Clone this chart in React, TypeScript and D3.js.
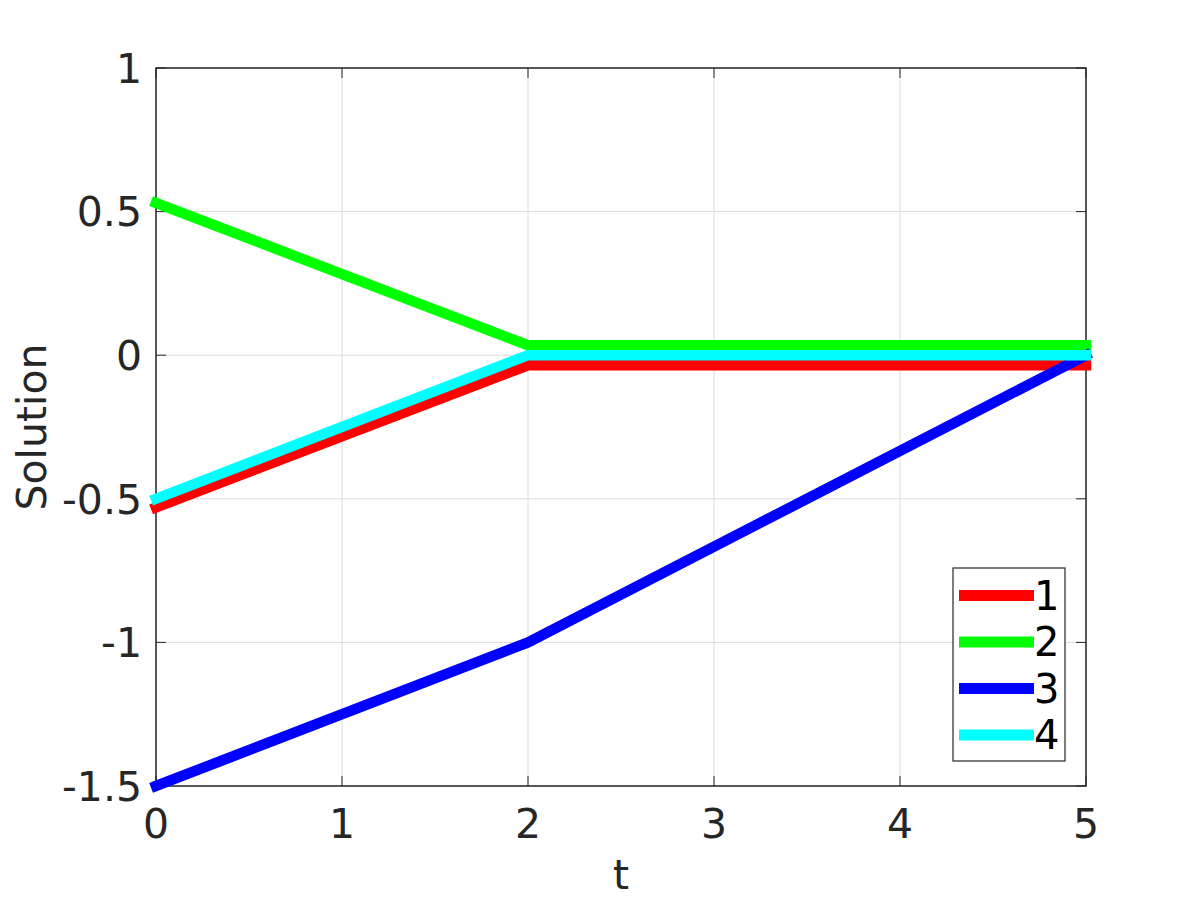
import React from "react";
import * as d3 from "d3";

const tValues = [0, 2, 5];
const series1 = [-0.53, -0.035, -0.035];
const series2 = [0.53, 0.035, 0.035];
const series3 = [-1.5, -1.0, 0.0];
const series4 = [-0.5, 0.0, 0.0];
const seriesNames = ["1", "2", "3", "4"];
const seriesColors = ["#ff0000", "#00ff00", "#0000ff", "#00ffff"];
const xTicks = [0, 1, 2, 3, 4, 5];
const yTicks = [-1.5, -1, -0.5, 0, 0.5, 1];
const xLabel = "t";
const yLabel = "Solution";

export default function App() {
  const W = 1200, H = 900;
  const left = 156, right = 1086, top = 68, bottom = 786;
  const x = d3.scaleLinear().domain([0, 5]).range([left, right]);
  const y = d3.scaleLinear().domain([-1.5, 1]).range([bottom, top]);
  const allSeries = [series1, series2, series3, series4];
  const line = d3
    .line<number>()
    .x((_, i) => x(tValues[i]))
    .y((d) => y(d));
  const axisColor = "#262626";
  const fs = 41;
  const font = "DejaVu Sans, sans-serif";
  const tickLen = 10;

  const fmt = (v: number) => String(v);

  // legend
  const lgX0 = 953, lgY0 = 568, lgW = 112, lgH = 193;
  const rowStep = 46.5;

  return (
    <svg
      width={W}
      height={H}
      style={{ position: "absolute", left: 0, top: 0, background: "#fff" }}
      fontFamily={font}
    >
      <rect x={0} y={0} width={W} height={H} fill="#fff" />
      {/* grid */}
      {xTicks.map((t) => (
        <line key={"gx" + t} x1={x(t)} x2={x(t)} y1={top} y2={bottom} stroke="#dcdcdc" strokeWidth={1} />
      ))}
      {yTicks.map((t) => (
        <line key={"gy" + t} x1={left} x2={right} y1={y(t)} y2={y(t)} stroke="#dcdcdc" strokeWidth={1} />
      ))}
      {/* ticks */}
      {xTicks.map((t) => (
        <g key={"tx" + t}>
          <line x1={x(t)} x2={x(t)} y1={bottom} y2={bottom - tickLen} stroke={axisColor} strokeWidth={1} />
          <line x1={x(t)} x2={x(t)} y1={top} y2={top + tickLen} stroke={axisColor} strokeWidth={1} />
          <text x={x(t)} y={838} textAnchor="middle" fontSize={fs} fill={axisColor}>
            {fmt(t)}
          </text>
        </g>
      ))}
      {yTicks.map((t) => (
        <g key={"ty" + t}>
          <line x1={left} x2={left + tickLen} y1={y(t)} y2={y(t)} stroke={axisColor} strokeWidth={1} />
          <line x1={right} x2={right - tickLen} y1={y(t)} y2={y(t)} stroke={axisColor} strokeWidth={1} />
          <text x={142} y={y(t)} dy="0.36em" textAnchor="end" fontSize={fs} fill={axisColor}>
            {fmt(t)}
          </text>
        </g>
      ))}
      {/* box */}
      <rect x={left} y={top} width={right - left} height={bottom - top} fill="none" stroke={axisColor} strokeWidth={1.5} />
      {/* lines */}
      {allSeries.map((s, i) => (
        <path
          key={"s" + i}
          d={line(s) || ""}
          fill="none"
          stroke={seriesColors[i]}
          strokeWidth={10.5}
          strokeLinecap="square"
          strokeLinejoin="miter"
        />
      ))}
      {/* axis labels */}
      <text x={(left + right) / 2} y={889} textAnchor="middle" fontSize={fs} fill={axisColor}>
        {xLabel}
      </text>
      <text
        transform={`translate(46, ${(top + bottom) / 2}) rotate(-90)`}
        textAnchor="middle"
        fontSize={fs}
        fill={axisColor}
      >
        {yLabel}
      </text>
      {/* legend */}
      <rect x={lgX0} y={lgY0} width={lgW} height={lgH} fill="#fff" stroke={axisColor} strokeWidth={1.2} />
      {seriesNames.map((n, i) => {
        const cy = lgY0 + 27.5 + i * rowStep;
        return (
          <g key={"lg" + i}>
            <line x1={959} x2={1034} y1={cy} y2={cy} stroke={seriesColors[i]} strokeWidth={11} />
            <text x={1034} y={cy} dy="0.36em" fontSize={fs - 1} fill="#000">
              {n}
            </text>
          </g>
        );
      })}
    </svg>
  );
}
